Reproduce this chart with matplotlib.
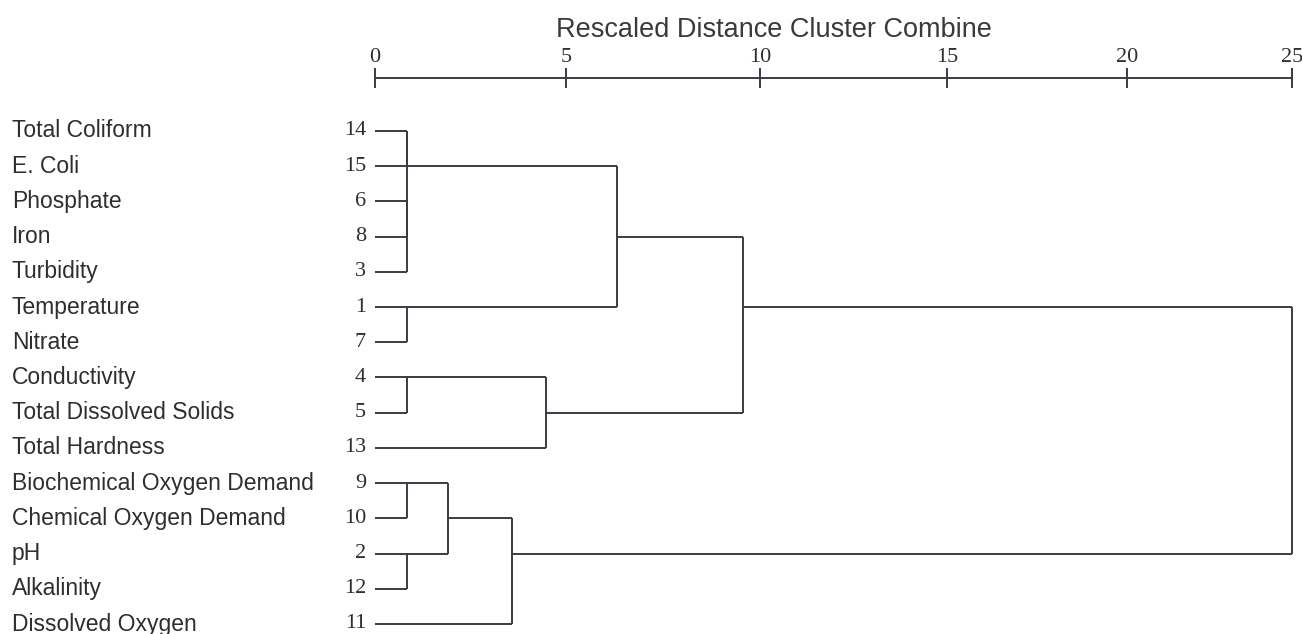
import numpy as np
import matplotlib
matplotlib.use("Agg")
import matplotlib.pyplot as plt
import matplotlib.transforms as mtransforms

# leaves in the order they are shown (top to bottom)
case_no = [14, 15, 6, 8, 3, 1, 7, 4, 5, 13, 9, 10, 2, 12, 11]
var_names = ["Total Coliform", "E. Coli", "Phosphate", "Iron", "Turbidity",
             "Temperature", "Nitrate", "Conductivity", "Total Dissolved Solids",
             "Total Hardness", "Biochemical Oxygen Demand", "Chemical Oxygen Demand",
             "pH", "Alkalinity", "Dissolved Oxygen"]

# agglomeration steps (rescaled distance 0-25), children are case numbers or step names
step_name = ["A", "B", "C", "D", "E", "F", "G", "H", "I", "J", "K", "L", "M", "N"]
step_left = ["6", "A", "14", "C", "1", "4", "9", "2", "G", "I", "F", "D", "L", "M"]
step_right = ["8", "3", "15", "B", "7", "5", "10", "12", "H", "11", "13", "E", "K", "J"]
step_dist = [0.84, 0.84, 0.84, 0.84, 0.84, 0.84, 0.84, 0.84, 1.91, 3.59, 4.48, 6.31, 9.56, 25.0]

xticks = [0, 5, 10, 15, 20, 25]

W, H = 1302, 634
# the SPSS ruler is not quite even: pixel column of each tick
tick_px = [375, 566, 760, 947, 1127, 1292]

fig = plt.figure(figsize=(W / 100, H / 100), dpi=100)
ax = fig.add_axes([375 / W, 0, (1292 - 375) / W, 1 - 78 / H])
ax.set_xscale('function', functions=(lambda d: np.interp(d, xticks, tick_px),
                                      lambda p: np.interp(p, tick_px, xticks)))

lc = '#383c43'
tc = '#2e2e2e'
lw = 1.4

nodes = {}
for r, c in enumerate(case_no):
    nodes[str(c)] = (0.0, r)

for name, a, b, d in zip(step_name, step_left, step_right, step_dist):
    xa, ra = nodes[a]
    xb, rb = nodes[b]
    ax.plot([xa, d], [ra, ra], color=lc, lw=lw, clip_on=False, solid_capstyle='butt')
    ax.plot([xb, d], [rb, rb], color=lc, lw=lw, clip_on=False, solid_capstyle='butt')
    ax.plot([d, d], [ra, rb], color=lc, lw=lw, clip_on=False, solid_capstyle='butt')
    lo, hi = min(ra, rb), max(ra, rb)
    nodes[name] = (d, (lo + hi) // 2)

sp = (624 - 131) / 14.0
ax.set_xlim(0, 25)
ax.set_ylim(14 + (H - 624) / sp, -(131 - 78) / sp)

for s in ['left', 'right', 'bottom']:
    ax.spines[s].set_visible(False)
ax.spines['top'].set_color(lc)
ax.spines['top'].set_linewidth(lw)
ax.xaxis.tick_top()
ax.set_xticks(xticks)
ax.set_xticklabels([str(t) for t in xticks], family='Liberation Serif', fontsize=16, color=tc)
ax.tick_params(axis='x', direction='inout', length=14.5, width=lw, color=lc, pad=1)
ax.set_xticks([], minor=True)
ax.set_yticks([])
ax.patch.set_alpha(0)

trans = mtransforms.blended_transform_factory(fig.transFigure, ax.transData)
for r, (c, nm) in enumerate(zip(case_no, var_names)):
    ax.text(12 / W, r, nm, transform=trans, ha='left', va='center',
            family='Liberation Sans', fontsize=16.5, color=tc)
    ax.text(366 / W, r, str(c), transform=trans, ha='right', va='center',
            family='Liberation Serif', fontsize=16, color=tc)

fig.text(774 / W, 1 - 30 / H, 'Rescaled Distance Cluster Combine', ha='center', va='center',
         family='Liberation Sans', fontsize=19.5, color='#3a3a3a')

fig.savefig('out.png', dpi=100)
